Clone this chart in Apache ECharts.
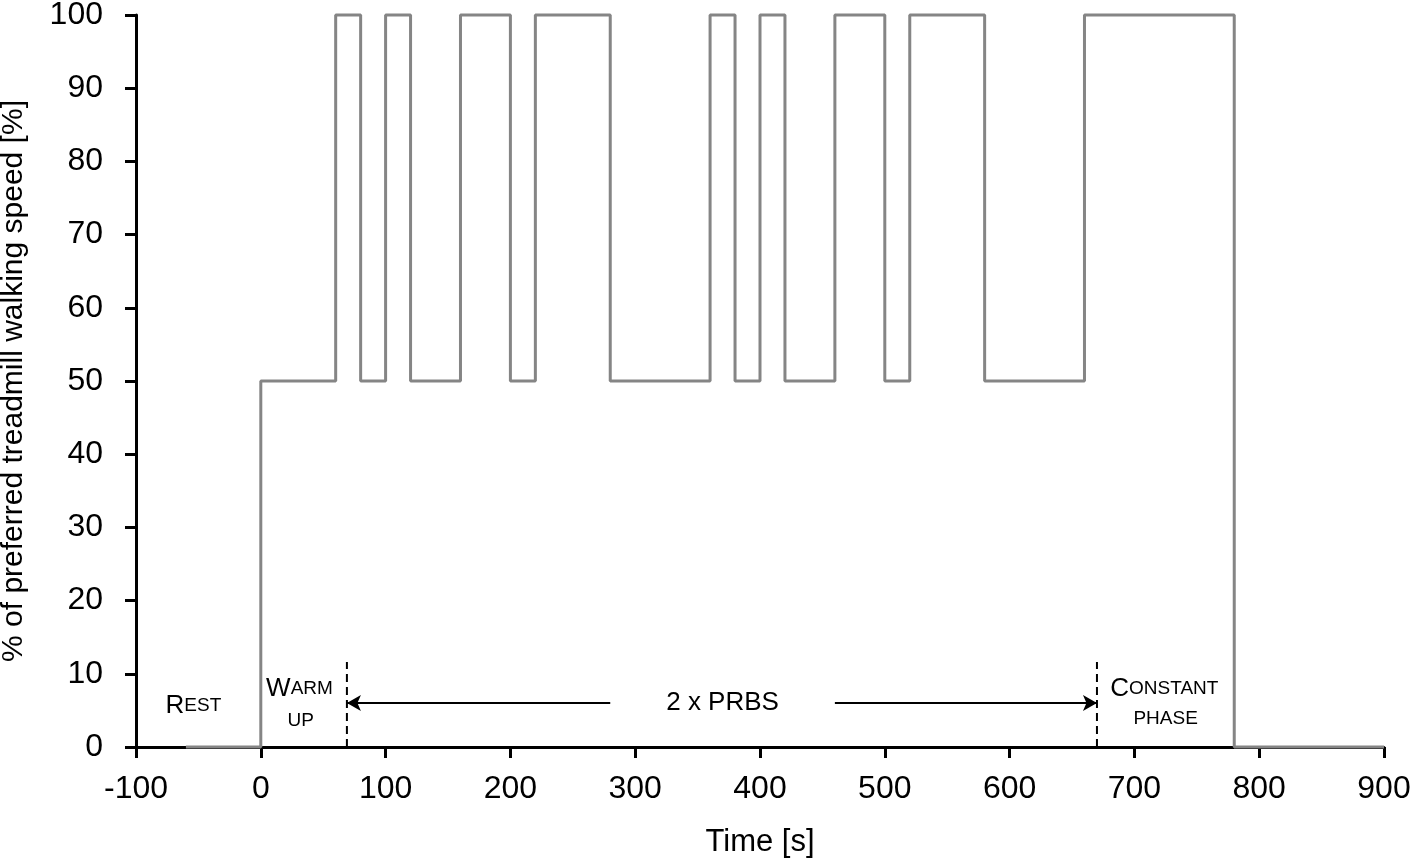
<!doctype html>
<html>
<head>
<meta charset="UTF-8">
<title>Treadmill protocol</title>
<script src="https://cdn.jsdelivr.net/npm/echarts@6/dist/echarts.min.js"></script>
<style>
  html, body { margin: 0; padding: 0; background: #fff; }
  #main { width: 1416px; height: 863px; }
</style>
</head>
<body>
<div id="main"></div>
<script>
// step profile: time [s] and % of preferred speed
var times  = [-60, 0, 60, 80, 100, 120, 160, 200, 220, 280, 360, 380, 400, 420, 460, 500, 520, 580, 660, 780, 900];
var speeds = [0, 50, 100, 50, 100, 50, 100, 50, 100, 50, 100, 50, 100, 50, 100, 50, 100, 50, 100, 0, 0];

// phase borders (dashed) and arrow for the PRBS part
var borderTimes = [69, 670];
var borderTop = 11.6;
var arrowY = 6;
var arrowLeft = [280, 69];
var arrowRight = [460, 670];

// text labels: [x, y, text]
var notes = [
  [-54, 5.6, '{b|R}{s|EST}'],
  [31, 8.0, '{b|W}{s|ARM}'],
  [32, 3.6, '{s|UP}'],
  [370, 6.0, '{m|2 x PRBS}'],
  [724, 8.0, '{b|C}{s|ONSTANT}'],
  [725, 3.8, '{s|PHASE}']
];

var xTicks = { min: -100, max: 900, interval: 100 };
var yTicks = { min: 0, max: 100, interval: 10 };

var profile = times.map(function (t, i) { return [t, speeds[i]]; });

var font = 'Liberation Sans, Arial, sans-serif';
var myChart = echarts.init(document.getElementById('main'));

var series = [
  {
    type: 'line',
    data: profile,
    step: 'end',
    showSymbol: false,
    clip: false,
    z: 5,
    lineStyle: { color: '#858585', width: 3 },
    markLine: {
      silent: true,
      symbol: ['none', 'arrow'],
      symbolSize: [12, 14],
      label: { show: false },
      lineStyle: { color: '#000', width: 2, type: 'solid' },
      data: [
        [{ coord: [arrowLeft[0], arrowY] }, { coord: [arrowLeft[1], arrowY] }],
        [{ coord: [arrowRight[0], arrowY] }, { coord: [arrowRight[1], arrowY] }]
      ]
    }
  }
];

borderTimes.forEach(function (t) {
  series.push({
    type: 'line',
    data: [[t, 0], [t, borderTop]],
    showSymbol: false,
    z: 4,
    lineStyle: { color: '#000', width: 2, type: [8, 5] }
  });
});

series.push({
  type: 'scatter',
  symbolSize: 0,
  z: 6,
  itemStyle: { opacity: 1 },
  data: notes.map(function (n) { return { value: [n[0], n[1]], text: n[2] }; }),
  label: {
    show: true,
    position: 'inside',
    color: '#000',
    opacity: 1,
    formatter: function (p) { return p.data.text; },
    rich: {
      b: { fontFamily: font, fontSize: 26, color: '#000' },
      s: { fontFamily: font, fontSize: 19, color: '#000' },
      m: { fontFamily: font, fontSize: 26, color: '#000' }
    }
  }
});

var option = {
  animation: false,
  grid: { left: 136, right: 32, top: 15, bottom: 116, outerBoundsMode: 'none' },
  xAxis: {
    type: 'value',
    min: xTicks.min,
    max: xTicks.max,
    interval: xTicks.interval,
    name: 'Time [s]',
    nameLocation: 'middle',
    nameGap: 80,
    nameTextStyle: { fontFamily: font, fontSize: 31, color: '#000' },
    splitLine: { show: false },
    axisLine: { onZero: false, lineStyle: { color: '#000', width: 3 } },
    axisTick: { length: 11, lineStyle: { color: '#000', width: 3 } },
    axisLabel: { margin: 26, fontFamily: font, fontSize: 32, color: '#000' }
  },
  yAxis: {
    type: 'value',
    min: yTicks.min,
    max: yTicks.max,
    interval: yTicks.interval,
    name: '% of preferred treadmill walking speed [%]',
    nameLocation: 'middle',
    nameGap: 107,
    nameTextStyle: { fontFamily: font, fontSize: 30, color: '#000' },
    splitLine: { show: false },
    axisLine: { show: true, onZero: false, lineStyle: { color: '#000', width: 3 } },
    axisTick: { show: true, length: 11, lineStyle: { color: '#000', width: 3 } },
    axisLabel: { margin: 33, fontFamily: font, fontSize: 32, color: '#000' }
  },
  series: series
};

myChart.setOption(option);
</script>
</body>
</html>
